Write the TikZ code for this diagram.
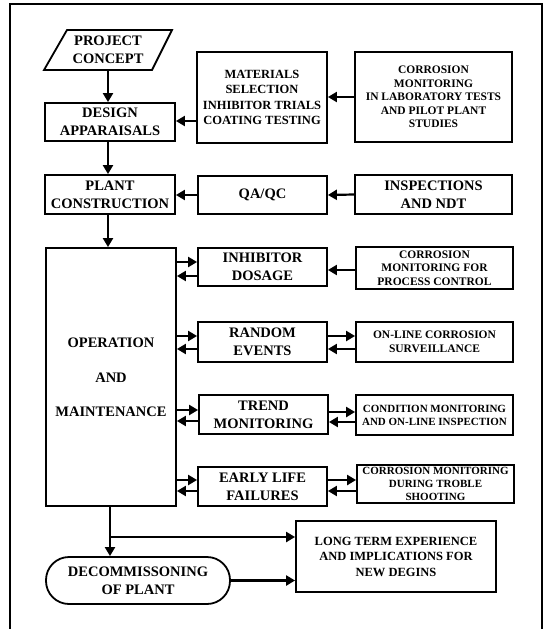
\documentclass[tikz,border=0pt]{standalone}
\usepackage{fontspec}
\setmainfont{Liberation Serif}
\usetikzlibrary{arrows.meta,calc}
\tikzset{
  boxstyle/.style={draw, line width=1.8pt, align=center, inner sep=1pt, font=\bfseries\fontsize{14.5}{18}\selectfont},
  smallbox/.style={boxstyle, font=\bfseries\fontsize{11.5}{13.5}\selectfont},
  tinybox/.style={boxstyle, font=\bfseries\fontsize{11}{13}\selectfont},
  midbox/.style={boxstyle, font=\bfseries\fontsize{12.5}{15.5}\selectfont},
  arr/.style={line width=2.2pt, -{Triangle[length=9pt,width=10pt]}},
  ln/.style={line width=2.2pt},
  frame/.style={line width=1.4pt}
}
\begin{document}
\begin{tikzpicture}[x=1pt,y=-1pt]
\useasboundingbox (0,0) rectangle (548,629);
\draw[frame] (10,640) -- (10,4) -- (542,4) -- (542,640);

% project concept (parallelogram)
\node[font=\bfseries\fontsize{14.5}{18}\selectfont, align=center, minimum width=100pt, minimum height=40pt, inner sep=0pt] (concept) at (108,50) {PROJECT\\CONCEPT};
\draw[line width=1.8pt] (67,30) -- (172,30) -- (152,70) -- (44,70) -- cycle;

% left column
\node[boxstyle, minimum width=130pt, minimum height=38pt] (design) at (110,122) {DESIGN\\APPARAISALS};
\node[boxstyle, minimum width=130pt, minimum height=39pt] (plant) at (110,194.5) {PLANT\\CONSTRUCTION};
\node[boxstyle, minimum width=130pt, minimum height=258pt] (oper) at (111,377) {OPERATION\\[17pt]AND\\[16pt]MAINTENANCE};
\node[boxstyle, rounded corners=23pt, minimum width=184pt, minimum height=47pt] (decom) at (138,580.5) {DECOMMISSONING\\OF PLANT};

% middle column
\node[midbox, minimum width=130pt, minimum height=91pt] (mater) at (262,97.5) {MATERIALS\\SELECTION\\INHIBITOR TRIALS\\COATING TESTING};
\node[boxstyle, minimum width=129pt, minimum height=38pt] (qaqc) at (262.5,195) {QA/QC};
\node[boxstyle, minimum width=129pt, minimum height=38pt] (inhib) at (262.5,267) {INHIBITOR\\DOSAGE};
\node[boxstyle, minimum width=129pt, minimum height=40pt] (random) at (262.5,342) {RANDOM\\EVENTS};
\node[boxstyle, minimum width=129pt, minimum height=39pt] (trend) at (263.5,414.5) {TREND\\MONITORING};
\node[boxstyle, minimum width=129pt, minimum height=39pt] (early) at (262.5,486.5) {EARLY LIFE\\FAILURES};

% right column
\node[smallbox, minimum width=157pt, minimum height=90pt] (corrlab) at (433.5,97) {CORROSION\\MONITORING\\IN LABORATORY TESTS\\AND PILOT PLANT\\STUDIES};
\node[boxstyle, minimum width=157pt, minimum height=39pt] (insp) at (433.5,194.5) {INSPECTIONS\\AND NDT};
\node[smallbox, minimum width=157pt, minimum height=42pt] (corrproc) at (434.5,268) {CORROSION\\MONITORING FOR\\PROCESS CONTROL};
\node[smallbox, minimum width=157pt, minimum height=40pt] (online) at (434.5,342) {ON-LINE CORROSION\\SURVEILLANCE};
\node[tinybox, minimum width=157pt, minimum height=40pt] (cond) at (434.5,415) {CONDITION MONITORING\\AND ON-LINE INSPECTION};
\node[tinybox, minimum width=157pt, minimum height=38pt] (troble) at (435.5,484) {CORROSION MONITORING\\DURING TROBLE\\SHOOTING};
\node[midbox, minimum width=200pt, minimum height=71pt] (longt) at (396,556.5) {LONG TERM EXPERIENCE\\AND IMPLICATIONS FOR\\NEW DEGINS};

% vertical arrows
\draw[arr] (concept.south) -- (concept.south |- design.north);
\draw[arr] (design.south -| concept.south) -- (plant.north -| concept.south);
\draw[arr] (plant.south -| concept.south) -- (oper.north -| concept.south);

% feeds into left column
\draw[arr] (corrlab.west |- 0,97) -- (mater.east |- 0,97);
\draw[arr] (mater.west |- 0,121) -- (design.east |- 0,121);
\draw[arr] (insp.west) -- (qaqc.east);
\draw[arr] (qaqc.west) -- (plant.east |- qaqc.west);
\draw[arr] (corrproc.west |- 0,270) -- (inhib.east |- 0,270);

% operation <-> middle boxes
\draw[arr] (oper.east |- 0,262) -- (inhib.west |- 0,262);
\draw[arr] (inhib.west |- 0,276) -- (oper.east |- 0,276);
\draw[arr] (oper.east |- 0,336) -- (random.west |- 0,336);
\draw[arr] (random.west |- 0,349) -- (oper.east |- 0,349);
\draw[arr] (oper.east |- 0,410) -- (trend.west |- 0,410);
\draw[arr] (trend.west |- 0,421) -- (oper.east |- 0,421);
\draw[arr] (oper.east |- 0,480) -- (early.west |- 0,480);
\draw[arr] (early.west |- 0,491) -- (oper.east |- 0,491);

% middle <-> right boxes
\draw[arr] (random.east |- 0,336) -- (online.west |- 0,336);
\draw[arr] (online.west |- 0,349) -- (random.east |- 0,349);
\draw[arr] (trend.east |- 0,412) -- (cond.west |- 0,412);
\draw[arr] (cond.west |- 0,422) -- (trend.east |- 0,422);
\draw[arr] (early.east |- 0,480) -- (troble.west |- 0,480);
\draw[arr] (troble.west |- 0,491) -- (early.east |- 0,491);

% bottom
\coordinate (branch) at (110,537);
\draw[arr] (oper.south -| branch) -- (decom.north -| branch);
\draw[arr] (branch) -- (longt.west |- branch);
\draw[arr] (decom.east) -- (longt.west |- decom.east);
\end{tikzpicture}
\end{document}
